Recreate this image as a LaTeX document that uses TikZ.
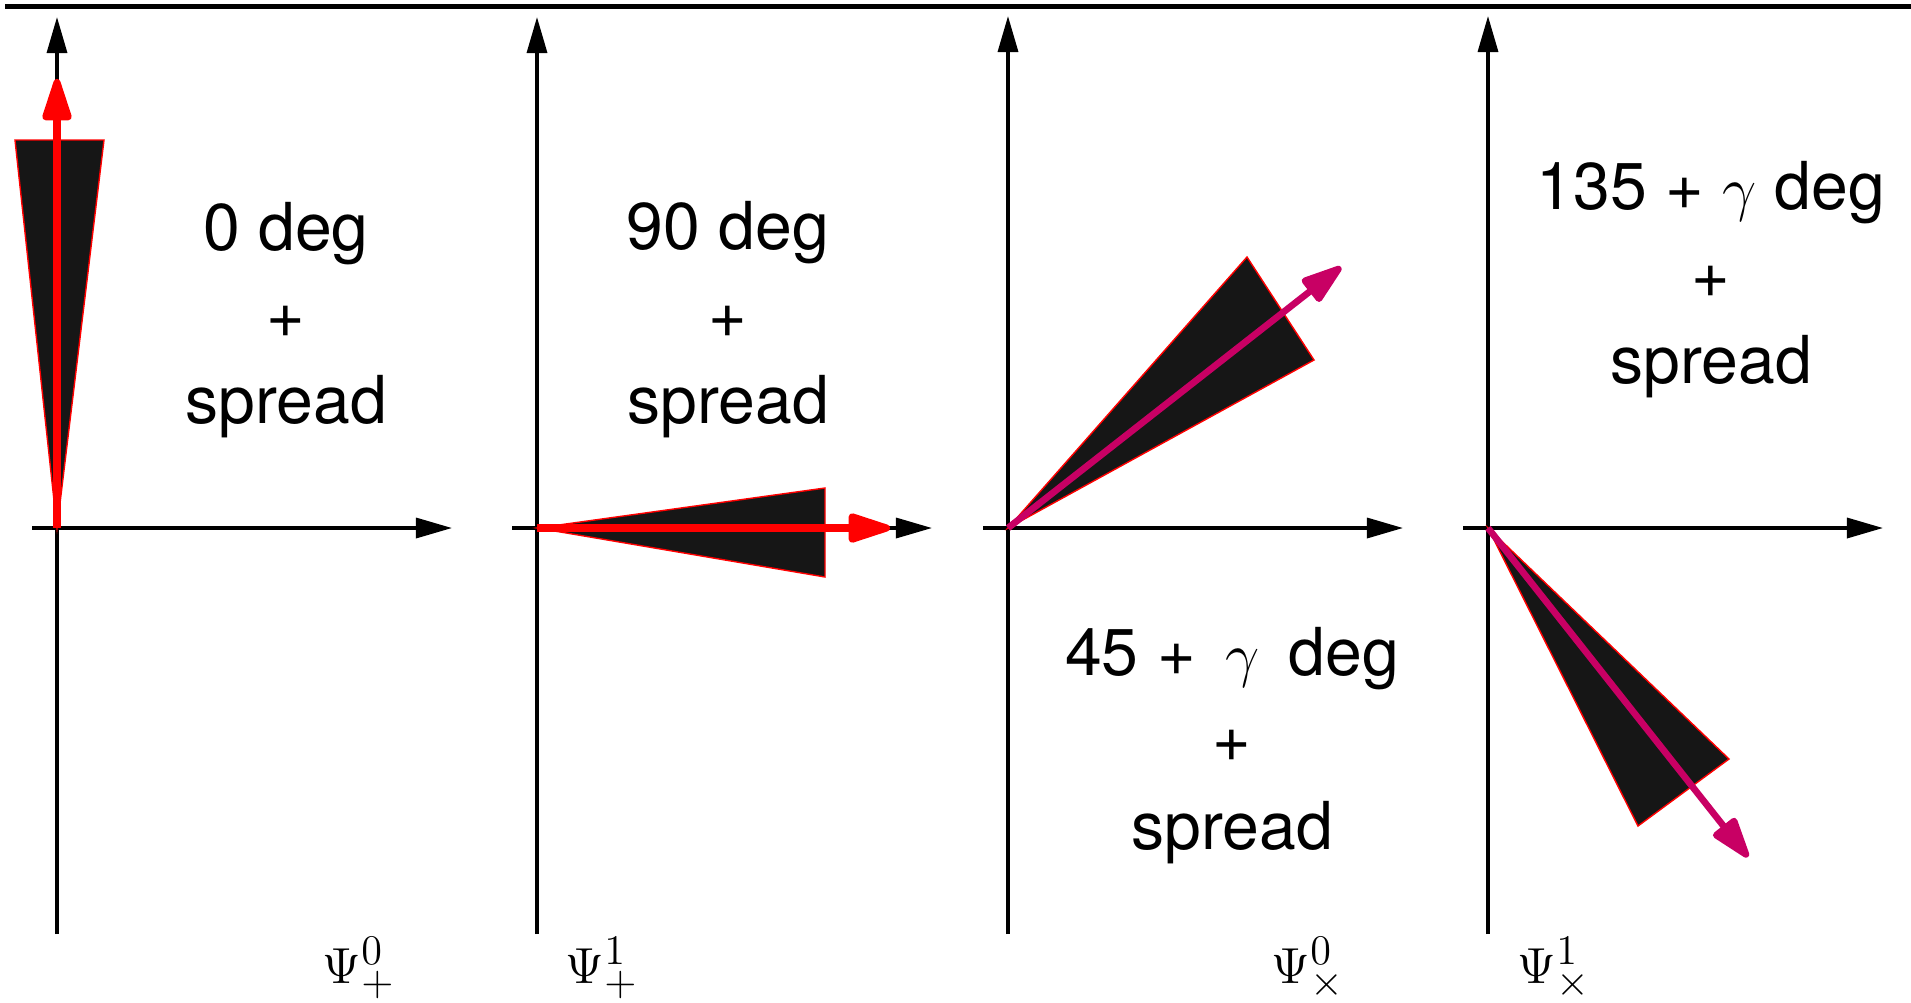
\documentclass[tikz,border=0pt]{standalone}
\usepackage[no-math]{fontspec}
\setmainfont{TeX Gyre Heros}
\usetikzlibrary{arrows.meta}
\DeclareMathSizes{14.5}{14.5}{11.6}{9}
\definecolor{mag}{RGB}{200,0,100}
\definecolor{wedgefill}{RGB}{22,22,22}
\begin{document}
\begin{tikzpicture}[x=0.01cm,y=-0.01cm,
  axisline/.style={line width=0.95pt, -{Triangle[length=0.36cm,width=0.2cm]}},
  wedge/.style={fill=wedgefill, draw=red, line width=0.4pt},
  redarrow/.style={red, line width=2pt, -{Triangle[length=0.5cm,width=0.3cm,round]}},
  magarrow/.style={mag, line width=1.9pt, -{Triangle[length=0.48cm,width=0.3cm,round]}},
  lbl/.style={font=\fontsize{18.8}{22}\selectfont, anchor=base, inner sep=0pt},
  psi/.style={font=\fontsize{14.5}{17}\selectfont, anchor=base west, inner sep=0pt}]
\useasboundingbox (0,0) rectangle (1911,1002);
% top rule
\coordinate (tl) at (5,6); \coordinate (tr) at (1911,6);
\draw[line width=1.42pt] (tl) -- (tr);

% ---------- panel 1 ----------
\coordinate (o1) at (57,528);
\coordinate (v1b) at (57,934); \coordinate (v1t) at (57,17);
\coordinate (h1l) at (32,528); \coordinate (h1r) at (452,528);
\coordinate (w1a) at (15,140); \coordinate (w1b) at (104,140);
\coordinate (r1) at (57,79);
\draw[axisline] (v1b) -- (v1t);
\draw[axisline] (h1l) -- (h1r);
\filldraw[wedge] (o1) -- (w1a) -- (w1b) -- cycle;
\draw[redarrow] (o1) -- (r1);
\node[lbl] (t1a) at (286,250) {0 deg};
\node[lbl] (t1b) at (286,337) {+};
\node[lbl] (t1c) at (286,423) {spread};
\node[psi] (p1) at (322,983) {$\Psi^0_+$};

% ---------- panel 2 ----------
\coordinate (o2) at (537,528);
\coordinate (v2b) at (537,934); \coordinate (v2t) at (537,17);
\coordinate (h2l) at (512,528); \coordinate (h2r) at (932,528);
\coordinate (w2a) at (825,488); \coordinate (w2b) at (825,577);
\coordinate (r2) at (890,528);
\draw[axisline] (v2b) -- (v2t);
\draw[axisline] (h2l) -- (h2r);
\filldraw[wedge] (o2) -- (w2a) -- (w2b) -- cycle;
\draw[redarrow] (o2) -- (r2);
\node[lbl] (t2a) at (728,249) {90 deg};
\node[lbl] (t2b) at (728,337) {+};
\node[lbl] (t2c) at (728,423) {spread};
\node[psi] (p2) at (565,983) {$\Psi^1_+$};

% ---------- panel 3 ----------
\coordinate (o3) at (1008,528);
\coordinate (v3b) at (1008,934); \coordinate (v3t) at (1008,16);
\coordinate (h3l) at (983,528); \coordinate (h3r) at (1403,528);
\coordinate (w3a) at (1247,257); \coordinate (w3b) at (1314,360);
\coordinate (r3) at (1341,267);
\draw[axisline] (v3b) -- (v3t);
\draw[axisline] (h3l) -- (h3r);
\filldraw[wedge] (o3) -- (w3a) -- (w3b) -- cycle;
\draw[magarrow] (o3) -- (r3);
\node[lbl] (t3a) at (1232,675) {45 + \,$\gamma$\, deg};
\node[lbl] (t3b) at (1232,761) {+};
\node[lbl] (t3c) at (1232,849) {spread};
\node[psi] (p3) at (1271,983) {$\Psi^0_\times$};

% ---------- panel 4 ----------
\coordinate (o4) at (1488,528);
\coordinate (v4b) at (1488,934); \coordinate (v4t) at (1488,16);
\coordinate (h4l) at (1463,528); \coordinate (h4r) at (1883,528);
\coordinate (w4a) at (1729,759); \coordinate (w4b) at (1638,826);
\coordinate (r4) at (1748,857);
\draw[axisline] (v4b) -- (v4t);
\draw[axisline] (h4l) -- (h4r);
\filldraw[wedge] (o4) -- (w4a) -- (w4b) -- cycle;
\draw[magarrow] (o4) -- (r4);
\node[lbl] (t4a) at (1711,209) {135 + $\gamma$ deg};
\node[lbl] (t4b) at (1711,297) {+};
\node[lbl] (t4c) at (1711,383) {spread};
\node[psi] (p4) at (1517,983) {$\Psi^1_\times$};
\end{tikzpicture}
\end{document}
